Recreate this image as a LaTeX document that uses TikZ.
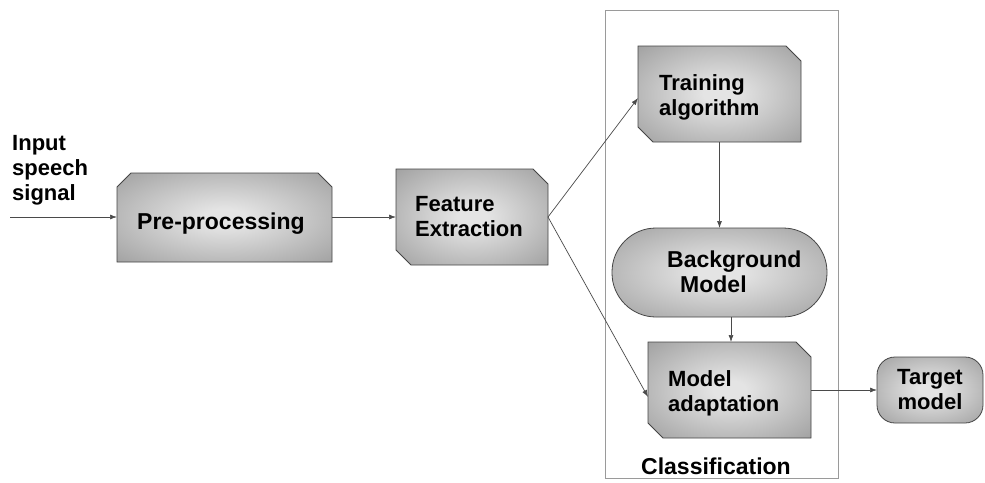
\documentclass[tikz,border=0pt]{standalone}
\usepackage{fontspec}
\setmainfont{Liberation Sans}
\usetikzlibrary{calc,arrows.meta}
\definecolor{lite}{HTML}{E4E4E4}
\definecolor{midg}{HTML}{828282}
\definecolor{darkg}{HTML}{686868}
\definecolor{edgec}{HTML}{454545}
\definecolor{arrc}{HTML}{4A4A4A}
\definecolor{clsc}{HTML}{9A9A9A}
\pgfdeclareradialshading{boxshade}{\pgfpoint{0bp}{0bp}}{color(0bp)=(lite); color(5bp)=(lite); color(50bp)=(midg); color(71bp)=(darkg); color(100bp)=(darkg)}
\newcommand{\cutbox}[2]{\shadedraw[sh] (#1.north west) -- ($(#1.north east)+(-#2,0)$) -- ($(#1.north east)+(0,#2)$) -- (#1.south east) -- ($(#1.south west)+(#2,0)$) -- ($(#1.south west)+(0,-#2)$) -- cycle;}
\begin{document}
\begin{tikzpicture}[x=1pt,y=-1pt,
  boxn/.style={inner sep=0pt, outer sep=0pt},
  sh/.style={shading=boxshade, draw=edgec, line width=0.8pt},
  txt/.style={font=\fontsize{22}{25}\selectfont\bfseries, inner sep=0pt, align=left},
  bigtxt/.style={font=\fontsize{23}{25}\selectfont\bfseries, inner sep=0pt, align=left},
  arr/.style={draw=arrc, line width=0.7pt, -{Latex[length=7pt,width=5pt]}}]
\useasboundingbox (0,0) rectangle (985,482);
% container
\node[boxn, draw=clsc, line width=1pt, minimum width=233pt, minimum height=468pt] (cls) at (721.5,244) {};
% box nodes
\node[boxn, minimum width=215pt, minimum height=89pt] (pre) at (224.5,217.5) {};
\node[boxn, minimum width=152pt, minimum height=96pt] (feat) at (472,217) {};
\node[boxn, minimum width=163pt, minimum height=96pt] (train) at (719.5,94) {};
\node[boxn, minimum width=215pt, minimum height=89pt] (bg) at (719.5,272.5) {};
\node[boxn, minimum width=163pt, minimum height=96pt] (adapt) at (729.5,390) {};
\node[boxn, minimum width=106pt, minimum height=66pt] (target) at (930,390) {};
% shapes
\shadedraw[sh] (pre.south west) -- ($(pre.north west)+(0,14)$) -- ($(pre.north west)+(14,0)$) -- ($(pre.north east)+(-14,0)$) -- ($(pre.north east)+(0,14)$) -- (pre.south east) -- cycle;
\cutbox{feat}{15}
\cutbox{train}{15}
\cutbox{adapt}{15}
\shadedraw[sh, rounded corners=44pt] (bg.north west) rectangle (bg.south east);
\shadedraw[sh, rounded corners=18pt] (target.north west) rectangle (target.south east);
% texts
\node[txt, anchor=north west] (inp) at (12,135) {Input\\speech\\signal};
\node[bigtxt, anchor=north west] (pret) at (137,213) {Pre-processing};
\node[txt, anchor=north west] (featt) at (415,196) {Feature\\Extraction};
\node[txt, anchor=north west] (traint) at (659,74) {Training\\algorithm};
\node[bigtxt, anchor=north west] (bgt) at (667,251) {Background\\\hspace*{13pt}Model};
\node[txt, anchor=north west] (adaptt) at (668,370) {Model\\adaptation};
\node[txt, anchor=north, align=center] (targett) at (930,369) {Target\\model};
\node[bigtxt, anchor=north west] (clst) at (641,458) {Classification};
% connectors
\coordinate (start) at (10,217);
\draw[arr] (start) -- (start -| pre.west);
\draw[arr] (pre.east |- feat.west) -- (feat.west);
\draw[arr] (feat.east) -- ([yshift=-4pt]train.west);
\draw[arr] (feat.east) -- ([yshift=-7pt]adapt.west);
\draw[arr] (train.south) -- (bg.north);
\draw[arr] ($(adapt.north |- bg.south)+(1.5,0)$) -- ($(adapt.north)+(1.5,0)$);
\draw[arr] (adapt.east) -- (target.west);
\end{tikzpicture}
\end{document}
